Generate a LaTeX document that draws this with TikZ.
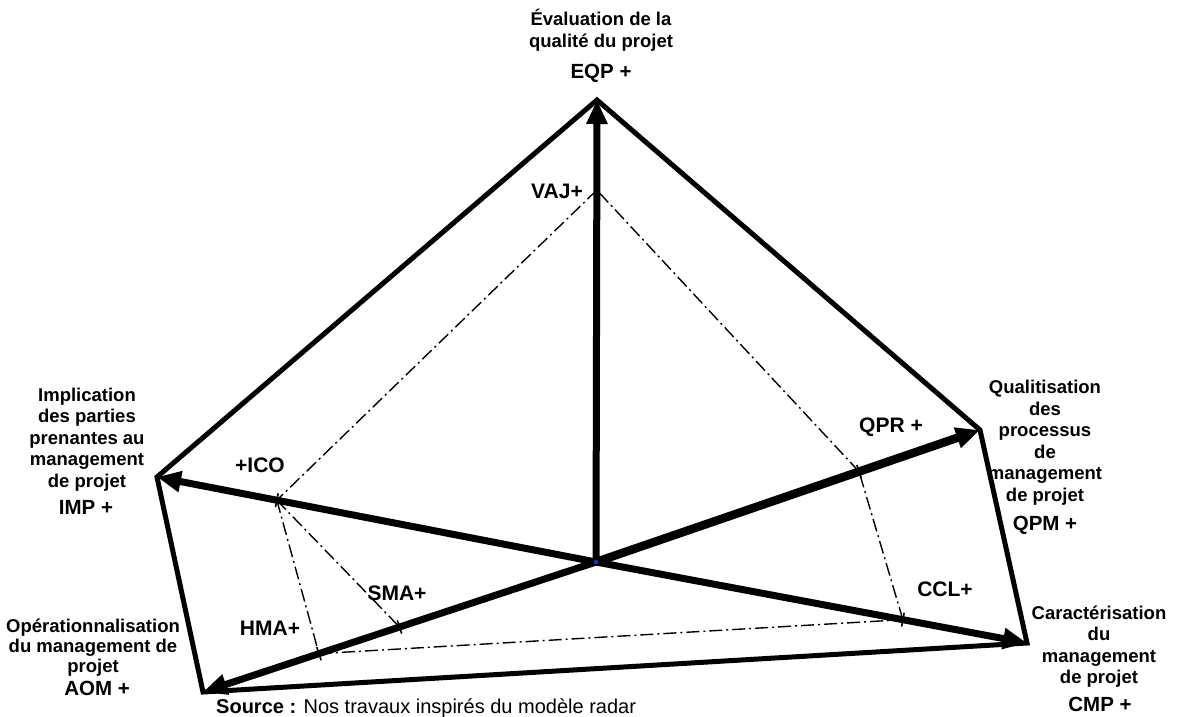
\documentclass[tikz,border=0pt]{standalone}
\usepackage{fontspec}
\setmainfont{Liberation Sans}
\usetikzlibrary{arrows.meta,calc}

\begin{document}
\begin{tikzpicture}[x=1pt,y=-1pt,
  axis/.style={line width=7pt,-{Triangle[length=24pt,width=20pt]}},
  frame/.style={line width=5pt,line join=miter},
  inner/.style={line width=1.4pt,dash pattern=on 13pt off 4pt on 2pt off 4pt},
  tickmark/.style={line width=1.6pt},
  block/.style={font=\fontsize{18.5}{21.5}\selectfont\bfseries,align=center,inner sep=0pt,anchor=north},
  code/.style={font=\fontsize{20.5}{24}\selectfont\bfseries,inner sep=0pt,anchor=base},
  tag/.style={font=\fontsize{21}{24}\selectfont\bfseries,inner sep=0pt}]
\useasboundingbox (0,0) rectangle (1177,716);

% centre and the five axis ends
\coordinate (O) at (596,562);
\coordinate (T) at (597,100);
\coordinate (L) at (157,477);
\coordinate (R) at (980,430);
\coordinate (D) at (1027,643);
\coordinate (B) at (203,692);

% outer pentagon
\draw[frame] (T) -- (R) -- (D) -- (B) -- (L) -- cycle;

% axes
\draw[axis] (O) -- (T);
\draw[axis] (O) -- (L);
\draw[axis,line width=8.5pt] (O) -- (R);
\draw[axis] (O) -- (D);
\draw[axis] (O) -- (B);
\fill[blue!70!cyan!80!black] (O) circle (2.2pt);

% levels on the axes
\coordinate (vaj) at ($(O)!0.805!(T)$);
\coordinate (ico) at ($(O)!0.727!(L)$);
\coordinate (sma) at ($(O)!0.50!(B)$);
\coordinate (hma) at ($(O)!0.705!(B)$);
\coordinate (qpr) at ($(O)!0.685!(R)$);
\coordinate (ccl) at ($(O)!0.712!(D)$);

% dash-dot profile
\draw[inner] (vaj) -- (ico);
\draw[inner] (ico) -- (hma);
\draw[inner] (ico) -- (sma);
\draw[inner] (hma) -- (ccl);
\draw[inner] (ccl) -- (qpr);
\draw[inner] (qpr) -- (vaj);

% small ticks across the axes
\foreach \p in {ico,sma,hma,qpr,ccl}
  \draw[tickmark] ($(\p)!7pt!90:(O)$) -- ($(\p)!7pt!-90:(O)$);

% axis titles
\node[block] (eqpT) at (601,7.5) {\rule{0pt}{18pt}Évaluation de la\\qualité du projet};
\node[code] (eqp) at (601,78) {EQP +};

\node[block] (impT) at (87,383) {\rule{0pt}{18pt}Implication\\des parties\\prenantes au\\management\\de projet};
\node[code] (imp) at (86,514) {IMP +};

\node[block,font=\fontsize{18.5}{20}\selectfont\bfseries] (aomT) at (93,614) {\rule{0pt}{18pt}Opérationnalisation\\du management de\\projet};
\node[code] (aom) at (97,695) {AOM +};

\node[block] (qpmT) at (1045,375.5) {\rule{0pt}{18pt}Qualitisation\\des\\processus\\de\\management\\de projet};
\node[code] (qpm) at (1045,530) {QPM +};

\node[block] (cmpT) at (1099,601) {\rule{0pt}{18pt}Caractérisation\\du\\management\\de projet};
\node[code] (cmp) at (1100,711) {CMP +};

% level labels
\node[tag] (vajL) at (557,191) {VAJ+};
\node[tag] (icoL) at (260,465) {+ICO};
\node[tag] (smaL) at (397,593) {SMA+};
\node[tag] (hmaL) at (270,628) {HMA+};
\node[tag] (qprL) at (891,427) {QPR +};
\node[tag] (cclL) at (945,589) {CCL+};

% source line
\node[font=\fontsize{20}{24}\selectfont,inner sep=0pt,anchor=base west] (src) at (216,713)
  {\textbf{Source :} Nos travaux inspirés du modèle radar};
\end{tikzpicture}
\end{document}
